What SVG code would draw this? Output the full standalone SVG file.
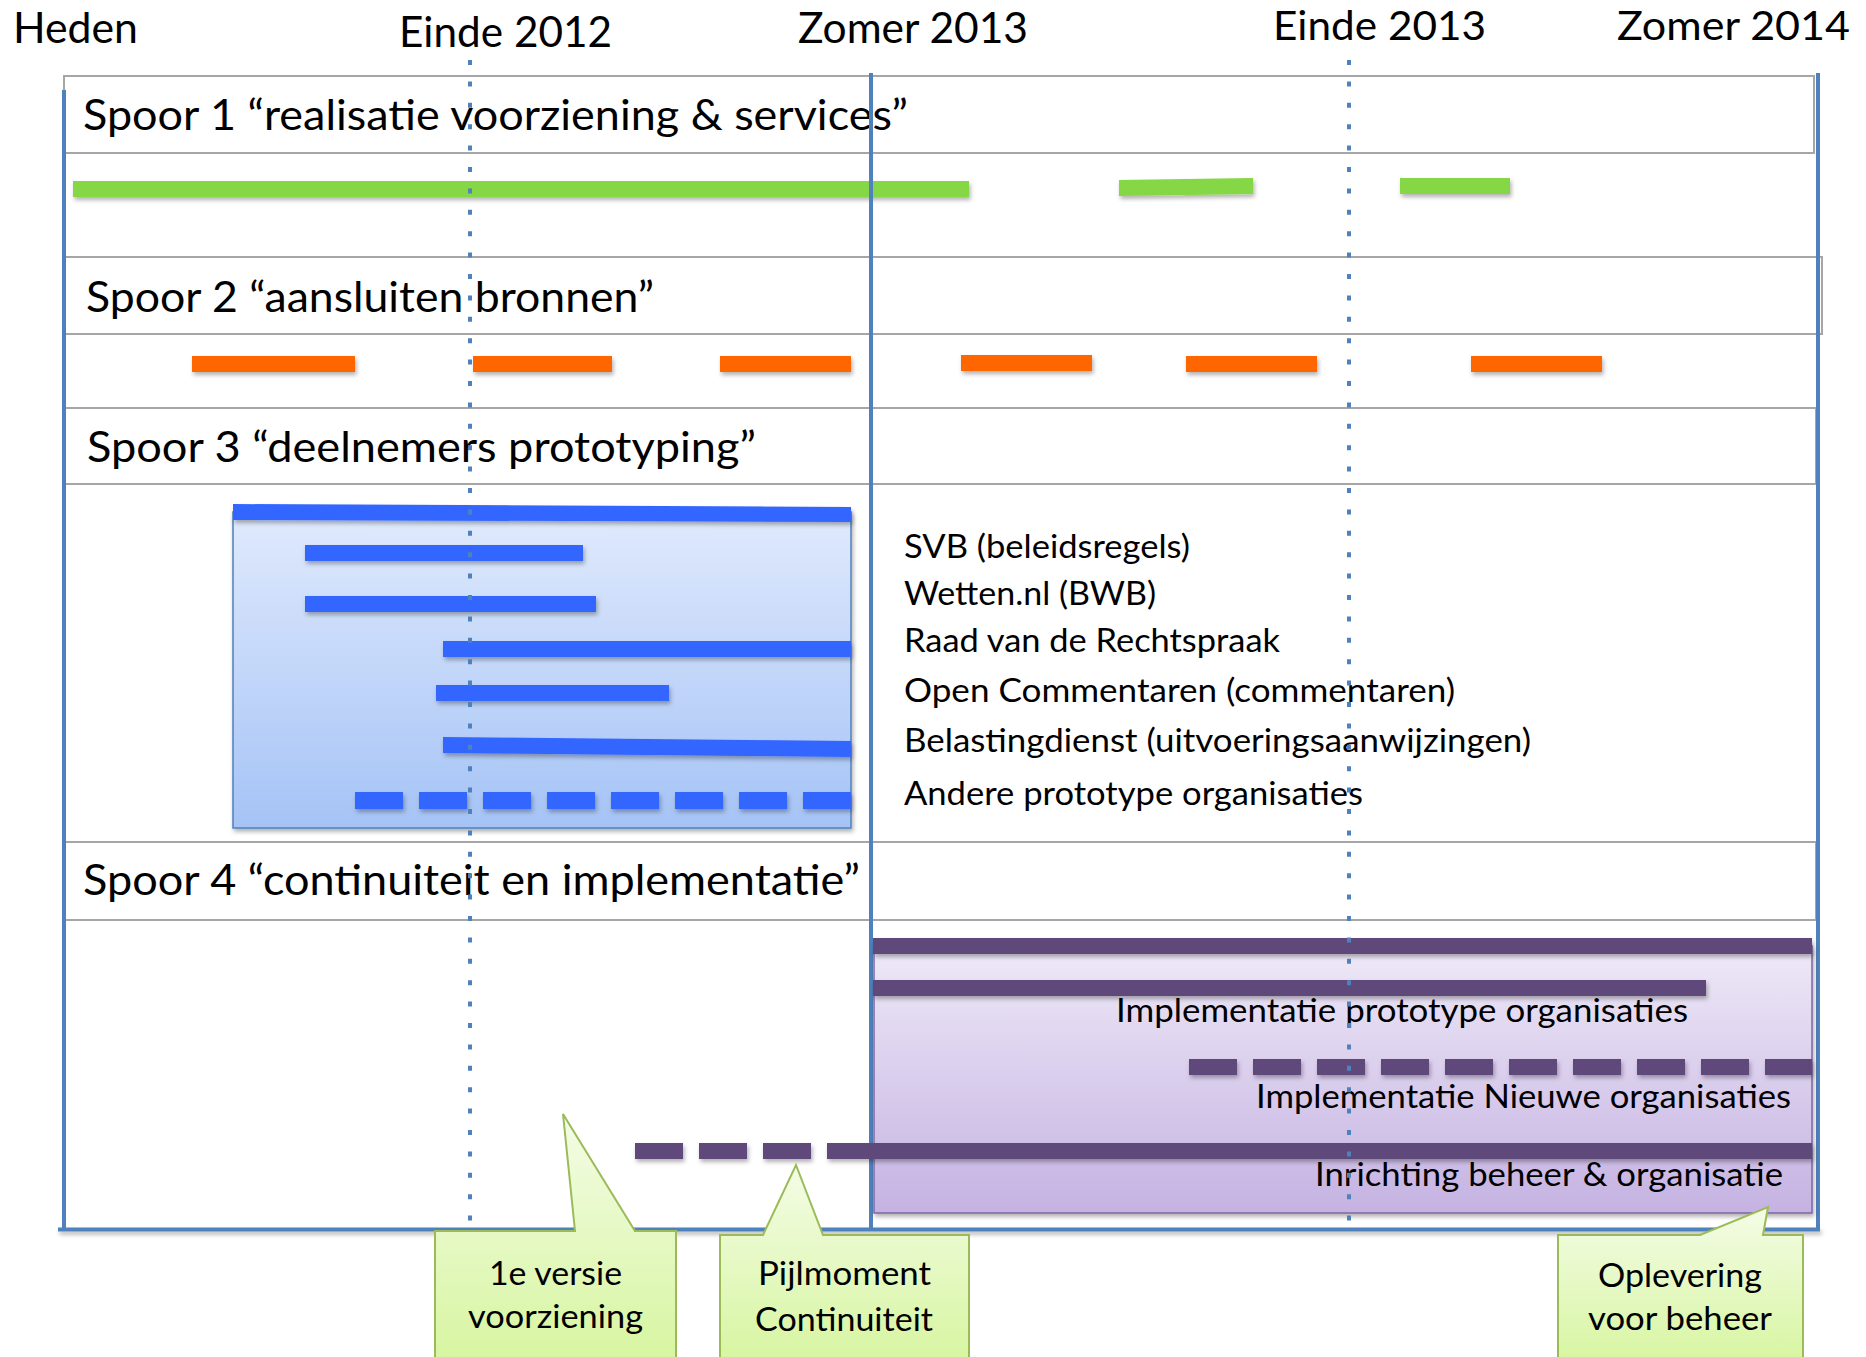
<svg xmlns="http://www.w3.org/2000/svg" width="1866" height="1357" viewBox="0 0 1866 1357">
<defs>
<style>
.t{font-family:Lato,"Open Sans","Liberation Sans",sans-serif;fill:#000}
.big{font-size:43px}
.sm{font-size:33px}
.hdr{fill:#fff;stroke:#a6a6a6;stroke-width:2}
.blue{stroke:#4f81bd;stroke-width:4;fill:none}
.dot{stroke:#4f81bd;stroke-width:4;stroke-dasharray:5 16.4;fill:none}
.green{fill:#86d744}
.orange{fill:#ff6600}
.bb{fill:#3366ff}
.pp{fill:#5f497a}
.call{stroke:#9bbb59;stroke-width:2;fill:url(#gCall)}
</style>
<linearGradient id="gBlue" x1="0" y1="0" x2="0" y2="1">
<stop offset="0" stop-color="#e0eafc"/><stop offset="1" stop-color="#a5c3f6"/>
</linearGradient>
<linearGradient id="gPurple" x1="0" y1="0" x2="0" y2="1">
<stop offset="0" stop-color="#eee9f7"/><stop offset="1" stop-color="#c5b2e2"/>
</linearGradient>
<linearGradient id="gCall" x1="0" y1="0" x2="0" y2="1">
<stop offset="0" stop-color="#f4fce6"/><stop offset="1" stop-color="#d6f59e"/>
</linearGradient>
<filter id="sh" filterUnits="userSpaceOnUse" x="0" y="0" width="1866" height="1357">
<feDropShadow dx="1.5" dy="3" stdDeviation="2" flood-color="#000" flood-opacity="0.3"/>
</filter>
</defs>
<rect width="1866" height="1357" fill="#fff"/>

<g id="time-labels">
<text class="t big" x="13" y="43" textLength="125" lengthAdjust="spacingAndGlyphs">Heden</text>
<text class="t big" x="399" y="47" textLength="213" lengthAdjust="spacingAndGlyphs">Einde 2012</text>
<text class="t big" x="798" y="43" textLength="230" lengthAdjust="spacingAndGlyphs">Zomer 2013</text>
<text class="t" style="font-size:40px" x="1273" y="40" textLength="213" lengthAdjust="spacingAndGlyphs">Einde 2013</text>
<text class="t" style="font-size:40px" x="1617" y="40" textLength="233" lengthAdjust="spacingAndGlyphs">Zomer 2014</text>
</g>

<g id="spoor1">
<rect class="hdr" x="64" y="76" width="1750" height="77"/>
<text class="t big" x="83" y="130" textLength="825" lengthAdjust="spacingAndGlyphs">Spoor 1 “realisatie voorziening &amp; services”</text>
<g filter="url(#sh)">
<rect class="green" x="73" y="181" width="896" height="16"/>
<polygon class="green" points="1119,180 1253,178 1253,194 1119,196"/>
<rect class="green" x="1400" y="178" width="110" height="16"/>
</g>
</g>

<g id="spoor2">
<rect class="hdr" x="64" y="257" width="1758" height="77"/>
<text class="t big" x="86" y="312" textLength="568" lengthAdjust="spacingAndGlyphs">Spoor 2 “aansluiten bronnen”</text>
<g filter="url(#sh)">
<rect class="orange" x="192" y="356" width="163" height="16"/>
<rect class="orange" x="473" y="356" width="139" height="16"/>
<rect class="orange" x="720" y="356" width="131" height="16"/>
<rect class="orange" x="961" y="355" width="131" height="16"/>
<rect class="orange" x="1186" y="356" width="131" height="16"/>
<rect class="orange" x="1471" y="356" width="131" height="16"/>
</g>
</g>

<g id="spoor3-header">
<rect class="hdr" x="64" y="408" width="1752" height="76"/>
<text class="t big" x="87" y="462" textLength="669" lengthAdjust="spacingAndGlyphs">Spoor 3 “deelnemers prototyping”</text>
</g>

<g id="spoor4-header">
<rect class="hdr" x="64" y="842" width="1752" height="78"/>
<text class="t big" x="83" y="895" textLength="777" lengthAdjust="spacingAndGlyphs">Spoor 4 “continuiteit en implementatie”</text>
</g>

<g id="frame">
<line class="blue" x1="64" y1="90" x2="64" y2="1231"/>
<line class="blue" x1="871" y1="73" x2="871" y2="1231"/>
<line class="blue" x1="1818" y1="73" x2="1818" y2="1231"/>
<rect x="58" y="1227.5" width="1762" height="4" fill="#4f81bd" filter="url(#sh)"/>
</g>

<g id="prototyping-box">
<rect x="233" y="512" width="618" height="316" fill="url(#gBlue)" stroke="#4f81bd" stroke-width="1.5" filter="url(#sh)"/>
<g filter="url(#sh)">
<polygon class="bb" points="233,504 851,507 851,522 233,520"/>
<rect class="bb" x="305" y="545" width="278" height="16"/>
<rect class="bb" x="305" y="596" width="291" height="16"/>
<rect class="bb" x="443" y="641" width="408" height="16"/>
<rect class="bb" x="436" y="685" width="233" height="16"/>
<polygon class="bb" points="443,737 851,741 851,757 443,753"/>
<rect class="bb" x="355" y="792" width="48" height="17"/>
<rect class="bb" x="419" y="792" width="48" height="17"/>
<rect class="bb" x="483" y="792" width="48" height="17"/>
<rect class="bb" x="547" y="792" width="48" height="17"/>
<rect class="bb" x="611" y="792" width="48" height="17"/>
<rect class="bb" x="675" y="792" width="48" height="17"/>
<rect class="bb" x="739" y="792" width="48" height="17"/>
<rect class="bb" x="803" y="792" width="48" height="17"/>
</g>
</g>

<g id="prototyping-list">
<text class="t sm" x="904" y="558" textLength="286" lengthAdjust="spacingAndGlyphs">SVB (beleidsregels)</text>
<text class="t sm" x="904" y="605" textLength="252" lengthAdjust="spacingAndGlyphs">Wetten.nl (BWB)</text>
<text class="t sm" x="904" y="652" textLength="376" lengthAdjust="spacingAndGlyphs">Raad van de Rechtspraak</text>
<text class="t sm" x="904" y="702" textLength="551" lengthAdjust="spacingAndGlyphs">Open Commentaren (commentaren)</text>
<text class="t sm" x="904" y="752" textLength="627" lengthAdjust="spacingAndGlyphs">Belastingdienst (uitvoeringsaanwijzingen)</text>
<text class="t sm" x="904" y="805" textLength="459" lengthAdjust="spacingAndGlyphs">Andere prototype organisaties</text>
</g>

<g id="implementation-box">
<rect x="874" y="946" width="938" height="267" fill="url(#gPurple)" stroke="#8064a2" stroke-width="1.5" filter="url(#sh)"/>
<g filter="url(#sh)">
<rect class="pp" x="873" y="938" width="939" height="16"/>
<rect class="pp" x="873" y="980" width="833" height="16"/>
<rect class="pp" x="1189" y="1059" width="48" height="16"/>
<rect class="pp" x="1253" y="1059" width="48" height="16"/>
<rect class="pp" x="1317" y="1059" width="48" height="16"/>
<rect class="pp" x="1381" y="1059" width="48" height="16"/>
<rect class="pp" x="1445" y="1059" width="48" height="16"/>
<rect class="pp" x="1509" y="1059" width="48" height="16"/>
<rect class="pp" x="1573" y="1059" width="48" height="16"/>
<rect class="pp" x="1637" y="1059" width="48" height="16"/>
<rect class="pp" x="1701" y="1059" width="48" height="16"/>
<rect class="pp" x="1765" y="1059" width="47" height="16"/>
<rect class="pp" x="635" y="1143" width="48" height="16"/>
<rect class="pp" x="699" y="1143" width="48" height="16"/>
<rect class="pp" x="763" y="1143" width="48" height="16"/>
<rect class="pp" x="827" y="1143" width="985" height="16"/>
</g>
<text class="t sm" x="1116" y="1022" textLength="572" lengthAdjust="spacingAndGlyphs">Implementatie prototype organisaties</text>
<text class="t sm" x="1256" y="1108" textLength="535" lengthAdjust="spacingAndGlyphs">Implementatie Nieuwe organisaties</text>
<text class="t sm" x="1315" y="1186" textLength="468" lengthAdjust="spacingAndGlyphs">Inrichting beheer &amp; organisatie</text>
</g>

<g id="milestone-lines">
<line class="dot" x1="470" y1="60" x2="470" y2="1222"/>
<line class="dot" x1="1349" y1="60" x2="1349" y2="1222"/>
</g>

<g id="callout-1e-versie">
<path class="call" d="M435,1231 L575,1231 L563,1114 L635,1231 L676,1231 L676,1370 L435,1370 Z"/>
<text class="t sm" x="555.5" y="1285" text-anchor="middle" textLength="133" lengthAdjust="spacingAndGlyphs">1e versie</text>
<text class="t sm" x="555.5" y="1328" text-anchor="middle" textLength="175" lengthAdjust="spacingAndGlyphs">voorziening</text>
</g>

<g id="callout-pijlmoment">
<path class="call" d="M720,1235 L763,1235 L796,1165 L823,1235 L969,1235 L969,1370 L720,1370 Z"/>
<text class="t sm" x="844.5" y="1285" text-anchor="middle" textLength="173" lengthAdjust="spacingAndGlyphs">Pijlmoment</text>
<text class="t sm" x="844" y="1331" text-anchor="middle" textLength="178" lengthAdjust="spacingAndGlyphs">Continuiteit</text>
</g>

<g id="callout-oplevering">
<path class="call" d="M1558,1235 L1700,1235 L1768,1207 L1763,1235 L1803,1235 L1803,1370 L1558,1370 Z"/>
<text class="t sm" x="1680" y="1287" text-anchor="middle" textLength="164" lengthAdjust="spacingAndGlyphs">Oplevering</text>
<text class="t sm" x="1680" y="1330" text-anchor="middle" textLength="184" lengthAdjust="spacingAndGlyphs">voor beheer</text>
</g>
</svg>
